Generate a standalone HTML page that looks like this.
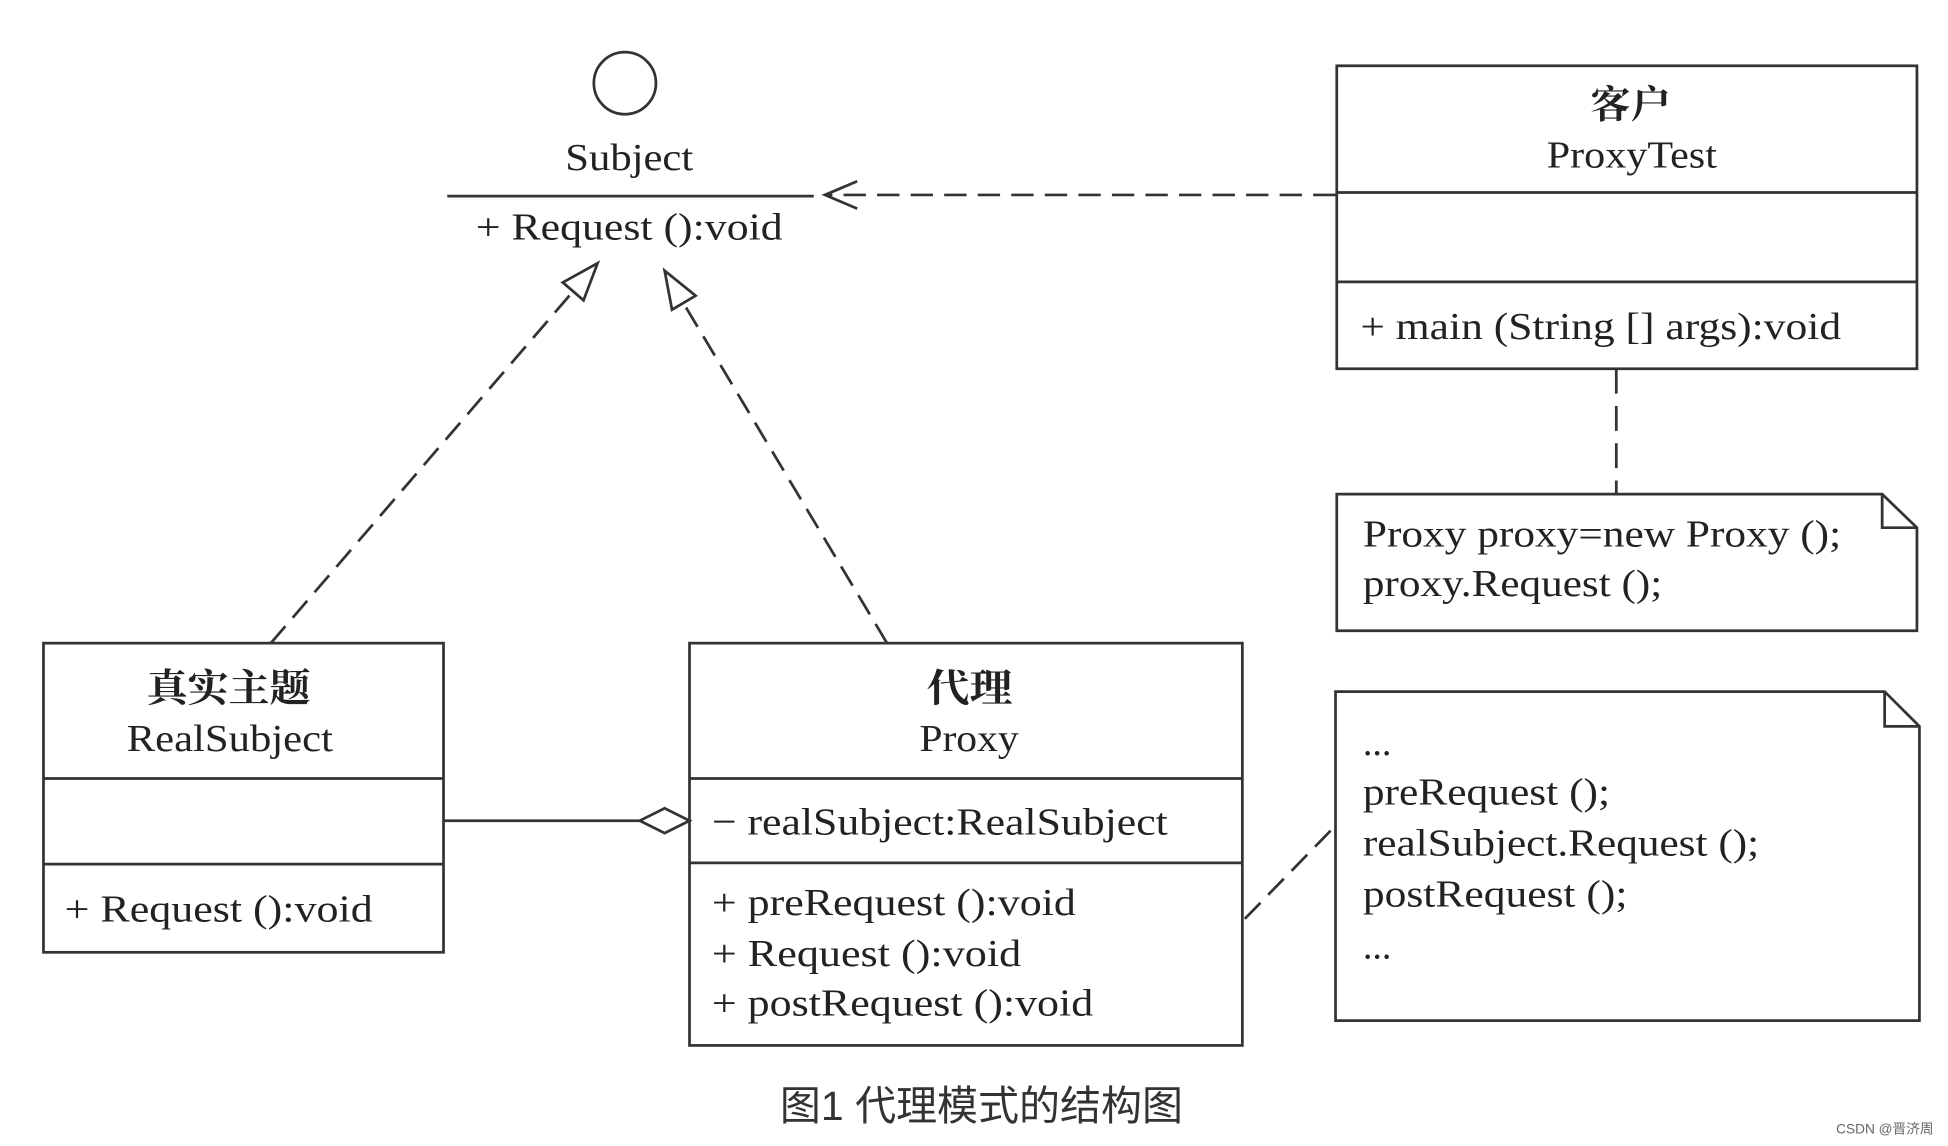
<!DOCTYPE html>
<html><head><meta charset="utf-8"><style>
html,body{margin:0;padding:0;background:#fff;}
svg{display:block;}
text{font-family:"Liberation Serif","Noto Serif CJK SC",serif;fill:#222;font-size:31px;}
.cn{font-family:"Liberation Serif","Noto Serif CJK SC",serif;font-weight:bold;}
</style></head><body>
<svg width="1948" height="1146" viewBox="0 0 1568 923" preserveAspectRatio="none" xmlns="http://www.w3.org/2000/svg">
<g stroke="#333" stroke-width="2.2" fill="none">
<circle cx="503" cy="67" r="25"/>
<line x1="360" y1="158" x2="655" y2="158"/>
<line x1="1075" y1="157" x2="665" y2="157" stroke-dasharray="18,9"/>
<polyline points="690,146 664,157 690,168"/>
<rect x="1076" y="53" width="467" height="244"/>
<line x1="1076" y1="155" x2="1543" y2="155"/>
<line x1="1076" y1="227" x2="1543" y2="227"/>
<line x1="1301" y1="297" x2="1301" y2="398" stroke-dasharray="20,10"/>
<polygon points="1076,398 1515,398 1543,425 1543,508 1076,508"/>
<polyline points="1515,398 1515,425 1543,425"/>
<rect x="35" y="518" width="322" height="249"/>
<line x1="35" y1="627" x2="357" y2="627"/>
<line x1="35" y1="696" x2="357" y2="696"/>
<rect x="555" y="518" width="445" height="324"/>
<line x1="555" y1="627" x2="1000" y2="627"/>
<line x1="555" y1="695" x2="1000" y2="695"/>
<line x1="357" y1="661" x2="515" y2="661"/>
<polygon points="515,661 535,651 555,661 535,671" fill="#fff"/>
<line x1="218" y1="518" x2="461" y2="235" stroke-dasharray="18,9"/>
<polygon points="481,212 453,227.5 469.7,241.9" fill="#fff"/>
<line x1="714" y1="518" x2="550" y2="244" stroke-dasharray="18,9"/>
<polygon points="535,218 559.9,238.2 540.9,249.4" fill="#fff"/>
<polygon points="1075,557 1517,557 1545,585 1545,822 1075,822"/>
<polyline points="1517,557 1517,585 1545,585"/>
<line x1="1002" y1="740" x2="1075" y2="665" stroke-dasharray="18,9"/>
</g>
<g>
<text x="455" y="137" textLength="103" lengthAdjust="spacingAndGlyphs">Subject</text>
<text x="383" y="193" textLength="247" lengthAdjust="spacingAndGlyphs">+ Request ():void</text>
<text x="1280" y="95" textLength="65" lengthAdjust="spacingAndGlyphs" class="cn">客户</text>
<text x="1245" y="135" textLength="137" lengthAdjust="spacingAndGlyphs">ProxyTest</text>
<text x="1095" y="273" textLength="387" lengthAdjust="spacingAndGlyphs">+ main (String [] args):void</text>
<text x="1097" y="440" textLength="385" lengthAdjust="spacingAndGlyphs">Proxy proxy=new Proxy ();</text>
<text x="1097" y="480" textLength="241" lengthAdjust="spacingAndGlyphs">proxy.Request ();</text>
<text x="118" y="565" textLength="132" lengthAdjust="spacingAndGlyphs" class="cn">真实主题</text>
<text x="102" y="605" textLength="166" lengthAdjust="spacingAndGlyphs">RealSubject</text>
<text x="52" y="742" textLength="248" lengthAdjust="spacingAndGlyphs">+ Request ():void</text>
<text x="746" y="565" textLength="69" lengthAdjust="spacingAndGlyphs" class="cn">代理</text>
<text x="740" y="605" textLength="80" lengthAdjust="spacingAndGlyphs">Proxy</text>
<text x="573" y="672" textLength="367" lengthAdjust="spacingAndGlyphs">− realSubject:RealSubject</text>
<text x="573" y="737" textLength="293" lengthAdjust="spacingAndGlyphs">+ preRequest ():void</text>
<text x="573" y="778" textLength="249" lengthAdjust="spacingAndGlyphs">+ Request ():void</text>
<text x="573" y="818" textLength="307" lengthAdjust="spacingAndGlyphs">+ postRequest ():void</text>
<text x="1097" y="608" textLength="23" lengthAdjust="spacingAndGlyphs">...</text>
<text x="1097" y="648" textLength="199" lengthAdjust="spacingAndGlyphs">preRequest ();</text>
<text x="1097" y="689" textLength="319" lengthAdjust="spacingAndGlyphs">realSubject.Request ();</text>
<text x="1097" y="730" textLength="213" lengthAdjust="spacingAndGlyphs">postRequest ();</text>
<text x="1097" y="772" textLength="23" lengthAdjust="spacingAndGlyphs">...</text>
</g>
<text x="790" y="902" text-anchor="middle" style="font-family:'Liberation Sans','Noto Sans CJK SC',sans-serif;font-size:33px;fill:#333">图1 代理模式的结构图</text>
<text x="1478" y="913" style="font-family:'Liberation Sans','Noto Sans CJK SC',sans-serif;font-size:11px;fill:#666">CSDN @晋济周</text>
</svg>
</body></html>
